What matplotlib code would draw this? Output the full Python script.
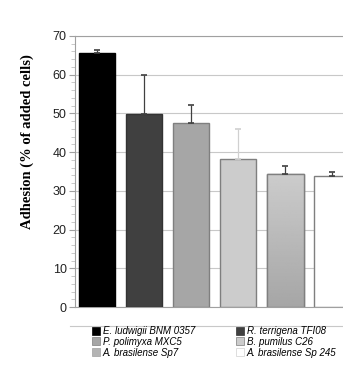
import numpy as np
import matplotlib
matplotlib.use("Agg")
import matplotlib.pyplot as plt
from matplotlib.patches import Patch
from matplotlib.lines import Line2D

# strains in bar order
strains = ["E. ludwigii BNM 0357", "R. terrigena TFI08", "P. polimyxa MXC5",
           "B. pumilus C26", "A. brasilense Sp7", "A. brasilense Sp 245"]
adhesion = [65.5, 49.8, 47.6, 38.1, 34.4, 33.9]
errors = [1.0, 10.0, 4.5, 8.0, 1.9, 1.1]
colors = ["#000000", "#404040", "#a6a6a6", "#cccccc", "#bbbbbb", "#ffffff"]
edges = ["#000000", "#333333", "#7f7f7f", "#7f7f7f", "#7f7f7f", "#7f7f7f"]
err_colors = ["#404040", "#404040", "#404040", "#d0d0d0", "#404040", "#404040"]

fig = plt.figure(figsize=(3.43, 3.69), dpi=100)
ax = fig.add_axes([75/343, 1-307/369, 1-75/343, (307-36)/369])

x = np.arange(len(strains))
width = 0.78
bars = ax.bar(x, adhesion, width, color=colors, edgecolor=edges, linewidth=1.0, zorder=3)

# gradient fill on the Sp7 bar
b = bars[4]
grad = np.linspace(0.65, 0.80, 100).reshape(-1, 1)
im = ax.imshow(grad, cmap="gray", vmin=0, vmax=1, origin="lower", aspect="auto",
               extent=[b.get_x(), b.get_x() + b.get_width(), 0, b.get_height()], zorder=3.5)
im.set_clip_path(b)
ax.bar(x[4], adhesion[4], width, fill=False, edgecolor=edges[4], linewidth=1.0, zorder=4)

for i in range(len(strains)):
    ax.errorbar(x[i], adhesion[i], yerr=[[0], [errors[i]]], fmt="none",
                ecolor=err_colors[i], elinewidth=0.9, capsize=2, capthick=1.2, zorder=5)

ax.set_xlim(-0.47, 5.23)
ax.set_ylim(0, 70)
ax.set_yticks(range(0, 71, 10))
ax.set_yticks(range(0, 71, 2), minor=True)
ax.set_xticks([])
ax.yaxis.grid(True, color="#c8c8c8", linewidth=0.8, zorder=0)
ax.set_axisbelow(True)
ax.spines["right"].set_visible(False)
for s in ["left", "bottom", "top"]:
    ax.spines[s].set_color("#a0a0a0")
    ax.spines[s].set_linewidth(0.8)
ax.tick_params(axis="y", which="major", length=4, color="#a0a0a0", pad=2)
ax.tick_params(axis="y", which="minor", length=3, color="#c0c0c0")
for lab in ax.get_yticklabels():
    lab.set_family("Liberation Sans")
    lab.set_fontsize(9)
    lab.set_color("#222222")

fig.text(27/343, 1-142/369, "Adhesion (% of added cells)", rotation=90,
         ha="center", va="center", family="Liberation Serif", fontweight="bold", fontsize=10.5)

# legend: line on top, two columns
fig.add_artist(Line2D([70/343, 1], [1-326/369, 1-326/369], color="#c8c8c8", linewidth=0.8))
handles = [Patch(facecolor=colors[i], edgecolor=edges[i] if i != 5 else "#d0d0d0", linewidth=0.5)
           for i in range(len(strains))]
handles[4] = Patch(facecolor="#b4b4b4", edgecolor="#a0a0a0", linewidth=0.5)
legprops = dict(frameon=False, handlelength=0.8, handleheight=0.9, handletextpad=0.3,
                labelspacing=0.08, borderpad=0, borderaxespad=0,
                prop={"family": "Liberation Sans", "style": "italic", "size": 7})
for col, xpos in [(0, 92/343), (1, 236/343)]:
    idx = [col, col + 2, col + 4]
    fig.legend([handles[i] for i in idx], [strains[i] for i in idx], loc="upper left",
               bbox_to_anchor=(xpos, 1-326/369), **legprops)

fig.savefig("out.png", dpi=100)
